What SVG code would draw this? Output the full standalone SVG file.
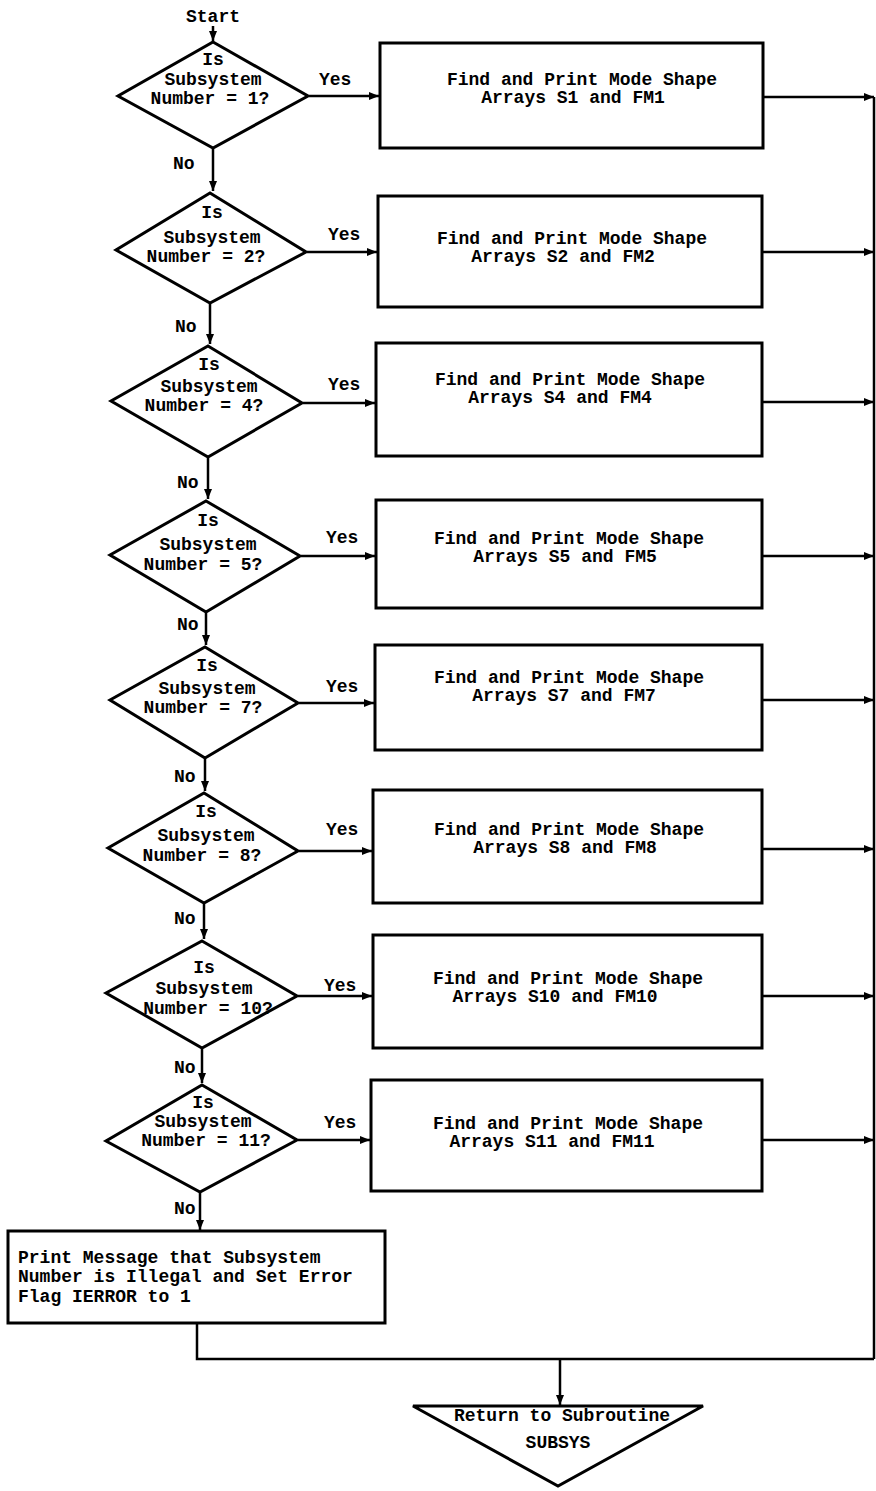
<svg xmlns="http://www.w3.org/2000/svg" width="876" height="1491" viewBox="0 0 876 1491">
<defs>
<marker id="arr" markerWidth="10" markerHeight="8" refX="10" refY="4" orient="auto" markerUnits="userSpaceOnUse">
<path d="M0,0 L10,4 L0,8 Z" fill="#000"/>
</marker>
<style>
.s{fill:#fff;stroke:#000;stroke-width:3}
.c{fill:none;stroke:#000;stroke-width:2.5}
.t{font-family:"Liberation Mono","Courier New",monospace;font-weight:bold;font-size:18px;fill:#000}
.m{text-anchor:middle}
</style>
</defs>
<rect width="876" height="1491" fill="#fff"/>
<g id="d1"><polygon class="s" points="213,42 308,96 213,148 118,96"/>
<text class="t m" x="213" y="65">Is</text><text class="t m" x="213" y="85">Subsystem</text><text class="t m" x="210" y="104">Number = 1?</text></g>
<g id="d2"><polygon class="s" points="210,193 306,252 210,303 116,250"/>
<text class="t m" x="212" y="218">Is</text><text class="t m" x="212" y="243">Subsystem</text><text class="t m" x="206" y="262">Number = 2?</text></g>
<g id="d3"><polygon class="s" points="208,346 302,403 208,457 111,401"/>
<text class="t m" x="209" y="370">Is</text><text class="t m" x="209" y="392">Subsystem</text><text class="t m" x="204" y="411">Number = 4?</text></g>
<g id="d4"><polygon class="s" points="206,501 300,556 206,612 110,555"/>
<text class="t m" x="208" y="526">Is</text><text class="t m" x="208" y="550">Subsystem</text><text class="t m" x="203" y="570">Number = 5?</text></g>
<g id="d5"><polygon class="s" points="205,647 298,703 205,758 110,700"/>
<text class="t m" x="207" y="671">Is</text><text class="t m" x="207" y="694">Subsystem</text><text class="t m" x="203" y="713">Number = 7?</text></g>
<g id="d6"><polygon class="s" points="204,793 298,851 204,903 108,848"/>
<text class="t m" x="206" y="817">Is</text><text class="t m" x="206" y="841">Subsystem</text><text class="t m" x="202" y="861">Number = 8?</text></g>
<g id="d7"><polygon class="s" points="202,941 297,996 202,1048 106,993"/>
<text class="t m" x="204" y="973">Is</text><text class="t m" x="204" y="994">Subsystem</text><text class="t m" x="208" y="1014">Number = 10?</text></g>
<g id="d8"><polygon class="s" points="202,1085 297,1140 200,1192 106,1141"/>
<text class="t m" x="203" y="1108">Is</text><text class="t m" x="203" y="1127">Subsystem</text><text class="t m" x="206" y="1146">Number = 11?</text></g>
<g id="b1"><rect class="s" x="380" y="43" width="383" height="105"/>
<text class="t m" x="582" y="85">Find and Print Mode Shape</text><text class="t m" x="573" y="103">Arrays S1 and FM1</text></g>
<g id="b2"><rect class="s" x="378" y="196" width="384" height="111"/>
<text class="t m" x="572" y="244">Find and Print Mode Shape</text><text class="t m" x="563" y="262">Arrays S2 and FM2</text></g>
<g id="b3"><rect class="s" x="376" y="343" width="386" height="113"/>
<text class="t m" x="570" y="385">Find and Print Mode Shape</text><text class="t m" x="560" y="403">Arrays S4 and FM4</text></g>
<g id="b4"><rect class="s" x="376" y="500" width="386" height="108"/>
<text class="t m" x="569" y="544">Find and Print Mode Shape</text><text class="t m" x="565" y="562">Arrays S5 and FM5</text></g>
<g id="b5"><rect class="s" x="375" y="645" width="387" height="105"/>
<text class="t m" x="569" y="683">Find and Print Mode Shape</text><text class="t m" x="564" y="701">Arrays S7 and FM7</text></g>
<g id="b6"><rect class="s" x="373" y="790" width="389" height="113"/>
<text class="t m" x="569" y="835">Find and Print Mode Shape</text><text class="t m" x="565" y="853">Arrays S8 and FM8</text></g>
<g id="b7"><rect class="s" x="373" y="935" width="389" height="113"/>
<text class="t m" x="568" y="984">Find and Print Mode Shape</text><text class="t m" x="555" y="1002">Arrays S10 and FM10</text></g>
<g id="b8"><rect class="s" x="371" y="1080" width="391" height="111"/>
<text class="t m" x="568" y="1129">Find and Print Mode Shape</text><text class="t m" x="552" y="1147">Arrays S11 and FM11</text></g>
<g id="err"><rect class="s" x="8" y="1231" width="377" height="92"/>
<text class="t" x="18" y="1263">Print Message that Subsystem</text><text class="t" x="18" y="1282">Number is Illegal and Set Error</text><text class="t" x="18" y="1302">Flag IERROR to 1</text></g>
<g id="ret"><polygon class="s" points="413,1406 703,1406 558,1486"/>
<text class="t m" x="562" y="1421">Return to Subroutine</text><text class="t m" x="558" y="1448">SUBSYS</text></g>
<g id="connectors">
<path class="c" d="M213,26 V41" marker-end="url(#arr)"/>
<path class="c" d="M213,149 V191" marker-end="url(#arr)"/>
<path class="c" d="M210,304 V344" marker-end="url(#arr)"/>
<path class="c" d="M208,458 V499" marker-end="url(#arr)"/>
<path class="c" d="M206,613 V645" marker-end="url(#arr)"/>
<path class="c" d="M205,759 V791" marker-end="url(#arr)"/>
<path class="c" d="M204,904 V939" marker-end="url(#arr)"/>
<path class="c" d="M202,1049 V1083" marker-end="url(#arr)"/>
<path class="c" d="M200,1193 V1230" marker-end="url(#arr)"/>
<path class="c" d="M309,96 H379" marker-end="url(#arr)"/>
<path class="c" d="M307,252 H377" marker-end="url(#arr)"/>
<path class="c" d="M303,403 H375" marker-end="url(#arr)"/>
<path class="c" d="M301,556 H375" marker-end="url(#arr)"/>
<path class="c" d="M299,703 H374" marker-end="url(#arr)"/>
<path class="c" d="M299,851 H372" marker-end="url(#arr)"/>
<path class="c" d="M298,996 H372" marker-end="url(#arr)"/>
<path class="c" d="M298,1140 H370" marker-end="url(#arr)"/>
<path class="c" d="M764,97 H874" marker-end="url(#arr)"/>
<path class="c" d="M763,252 H874" marker-end="url(#arr)"/>
<path class="c" d="M763,402 H874" marker-end="url(#arr)"/>
<path class="c" d="M763,556 H874" marker-end="url(#arr)"/>
<path class="c" d="M763,700 H874" marker-end="url(#arr)"/>
<path class="c" d="M763,849 H874" marker-end="url(#arr)"/>
<path class="c" d="M763,996 H874" marker-end="url(#arr)"/>
<path class="c" d="M763,1140 H874" marker-end="url(#arr)"/>
<path class="c" d="M874,97 V1359"/>
<path class="c" d="M197,1324 V1359 H874"/>
<path class="c" d="M560,1359 V1405" marker-end="url(#arr)"/>
<text class="t m" x="213" y="22">Start</text>
<text class="t" x="319" y="85">Yes</text>
<text class="t" x="328" y="240">Yes</text>
<text class="t" x="328" y="390">Yes</text>
<text class="t" x="326" y="543">Yes</text>
<text class="t" x="326" y="692">Yes</text>
<text class="t" x="326" y="835">Yes</text>
<text class="t" x="324" y="991">Yes</text>
<text class="t" x="324" y="1128">Yes</text>
<text class="t" x="173" y="169">No</text>
<text class="t" x="175" y="332">No</text>
<text class="t" x="177" y="488">No</text>
<text class="t" x="177" y="630">No</text>
<text class="t" x="174" y="782">No</text>
<text class="t" x="174" y="924">No</text>
<text class="t" x="174" y="1073">No</text>
<text class="t" x="174" y="1214">No</text>
</g>
</svg>
